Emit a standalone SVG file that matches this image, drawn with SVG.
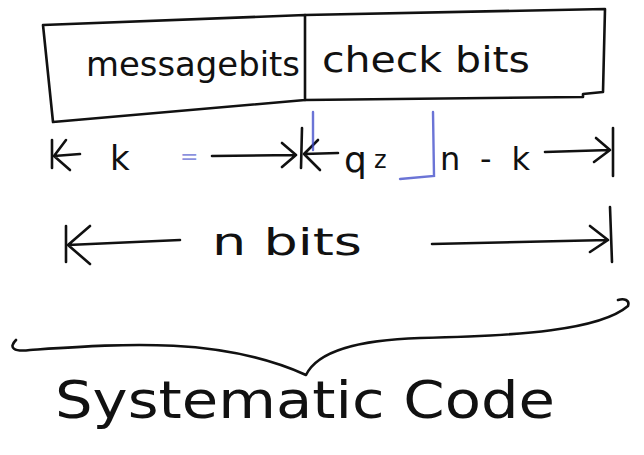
<svg xmlns="http://www.w3.org/2000/svg" width="644" height="455" viewBox="0 0 644 455">
  <style>
    .ink { fill: none; stroke: #111; stroke-width: 2.6; stroke-linecap: round; stroke-linejoin: round; }
    .blue { fill: none; stroke: #3a45c8; stroke-width: 2.4; stroke-linecap: round; stroke-opacity: 0.75; }
    .lbl { font-family: "DejaVu Sans", "Liberation Sans", sans-serif; fill: #111; }
    .bl { font-family: "DejaVu Sans", "Liberation Sans", sans-serif; fill: #3a45c8; fill-opacity: 0.6; }
  </style>
  <rect width="644" height="455" fill="#ffffff"/>

  <!-- codeword frame: message part and check part -->
  <g id="message-bits">
    <path class="ink" d="M305 15 L43 25 L53 122 L305 100 Z"/>
    <text class="lbl" x="86" y="76" font-size="34" textLength="214" lengthAdjust="spacingAndGlyphs">messagebits</text>
  </g>
  <g id="check-bits">
    <path class="ink" d="M305 15 L605 9 L603 92 L583 94 L583 97 L305 100"/>
    <text class="lbl" x="322" y="72" font-size="36" textLength="208" lengthAdjust="spacingAndGlyphs">check bits</text>
  </g>

  <!-- length markers -->
  <g id="connectors">
    <!-- k span -->
    <path class="ink" d="M52 140 L52 168"/>
    <path class="ink" d="M54 156 L80 154 M54 156 L66 140 M54 156 L70 170"/>
    <path class="ink" d="M212 156 L296 155 M296 155 L282 143 M296 155 L282 167"/>
    <!-- n-k span -->
    <path class="ink" d="M302 128 L301 168"/>
    <path class="ink" d="M304 154 L338 153 M304 154 L318 140 M304 154 L320 170"/>
    <path class="blue" d="M313 112 L313 150 M433 112 L434 176 L400 179"/>
    <path class="ink" d="M545 152 L610 150 M610 150 L596 138 M610 150 L594 162"/>
    <path class="ink" d="M613 128 L613 176"/>
    <!-- n span -->
    <path class="ink" d="M66 226 L66 262"/>
    <path class="ink" d="M68 245 L180 240 M68 245 L90 226 M68 245 L90 264"/>
    <path class="ink" d="M432 244 L608 240 M608 240 L590 226 M608 240 L590 252"/>
    <path class="ink" d="M610 207 L612 262"/>
    <!-- brace -->
    <path class="ink" d="M16 340 C 8 348, 14 352, 30 350 C 120 344, 220 336, 306 375 C 318 350, 360 340, 420 338 C 520 336, 600 330, 628 306 C 630 300, 624 298, 618 300"/>
  </g>

  <g id="span-labels">
    <text class="lbl" x="110" y="170" font-size="34">k</text>
    <text class="bl" x="180" y="164" font-size="22">=</text>
    <text class="lbl" x="374" y="168" font-size="24">z</text>
    <text class="lbl" x="344" y="172" font-size="36">q</text>
    <text class="lbl" x="440" y="170" font-size="32" textLength="90" lengthAdjust="spacing">n-k</text>
    <text class="lbl" x="212" y="255" font-size="38" textLength="150" lengthAdjust="spacingAndGlyphs">n bits</text>
  </g>

  <g id="systematic-code">
    <text class="lbl" x="55" y="418" font-size="52" textLength="500" lengthAdjust="spacingAndGlyphs">Systematic  Code</text>
  </g>
</svg>
